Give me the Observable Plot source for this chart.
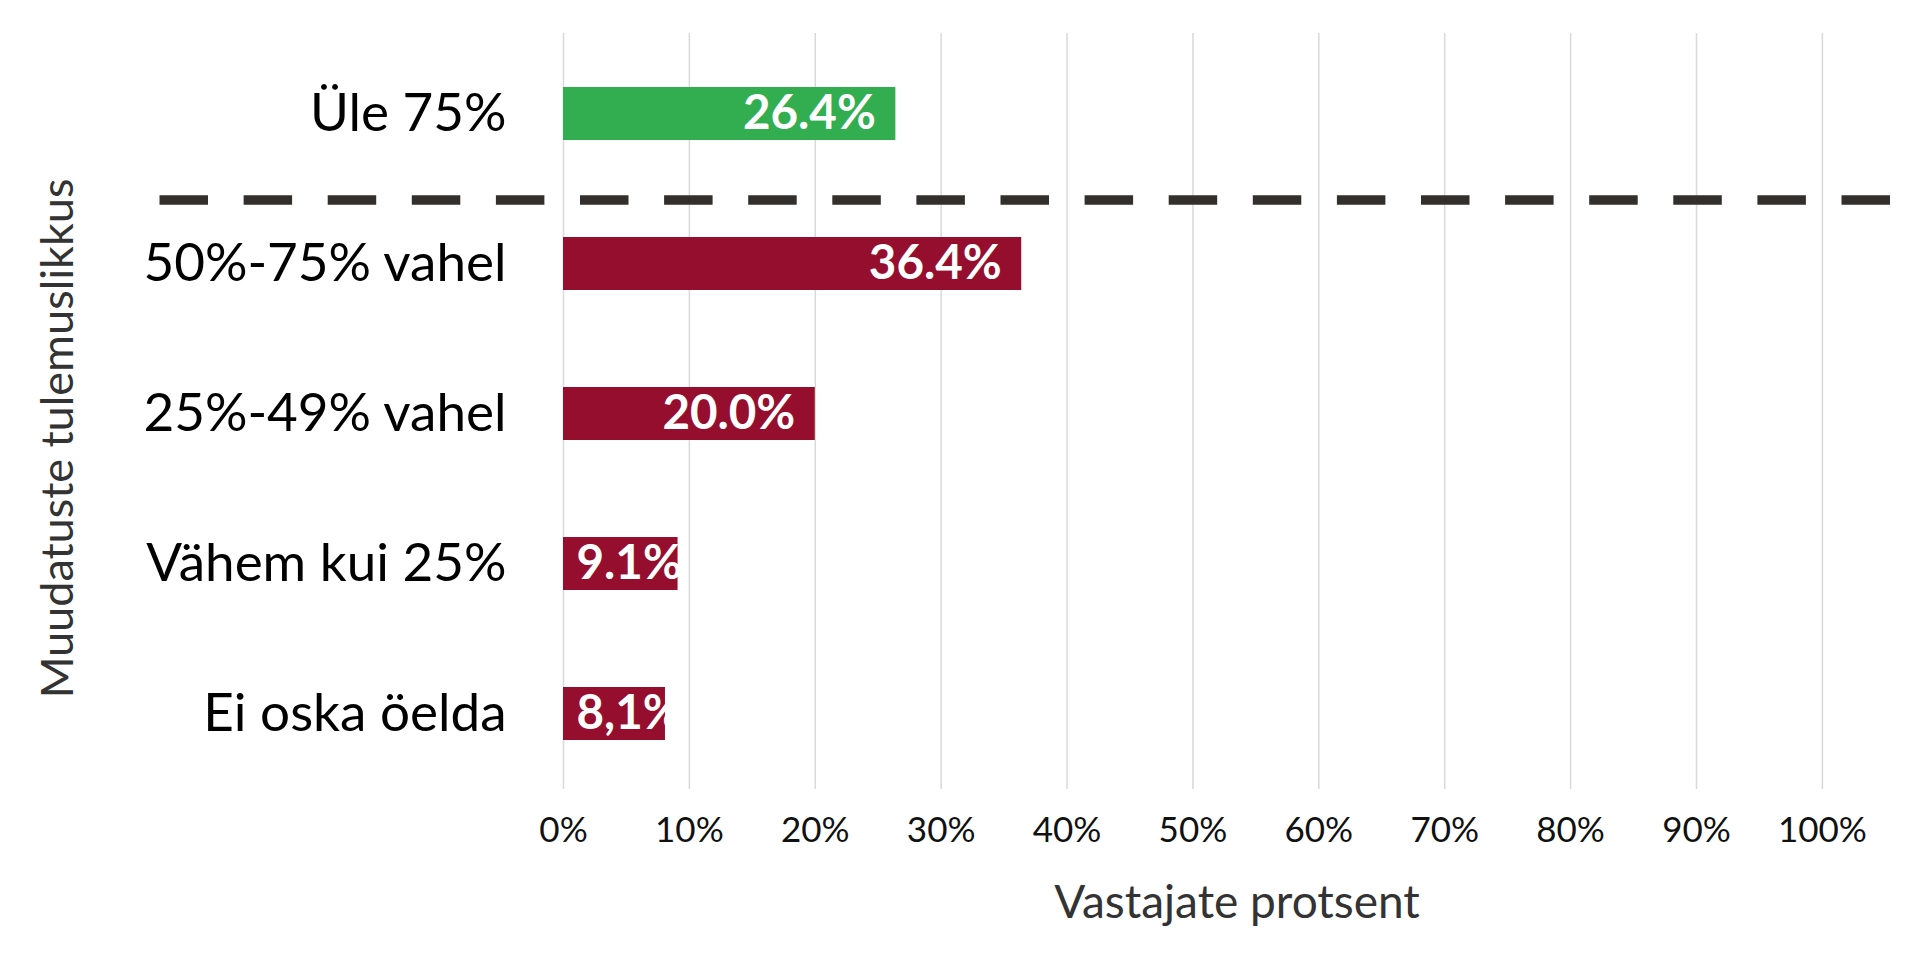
<!DOCTYPE html>
<html><head><meta charset="utf-8">
<script src="https://cdn.jsdelivr.net/npm/d3@7"></script>
<script src="https://cdn.jsdelivr.net/npm/@observablehq/plot@0.6"></script>
<style>body{margin:0;background:#fff;} svg{overflow:visible;}</style>
</head><body><div id="chart"></div>
<script>
// ---- data ----
const categories = ["Üle 75%", "50%-75% vahel", "25%-49% vahel", "Vähem kui 25%", "Ei oska öelda"];
const values = [26.4, 36.4, 20.0, 9.1, 8.1];
const valueLabels = ["26.4%", "36.4%", "20.0%", "9.1%", "8,1%"];
const groups = ["üle", "alla", "alla", "alla", "alla"];
const tickValues = [0, 10, 20, 30, 40, 50, 60, 70, 80, 90, 100];
const tickLabels = ["0%", "10%", "20%", "30%", "40%", "50%", "60%", "70%", "80%", "90%", "100%"];
const xTitle = "Vastajate protsent";
const yTitle = "Muudatuste tulemuslikkus";

const data = categories.map((c, i) => ({category: c, value: values[i], label: valueLabels[i], group: groups[i]}));
const FONT = "Lato, 'Open Sans', sans-serif";

const chart = Plot.plot({
  width: 1920, height: 956,
  marginLeft: 563, marginRight: 10, marginTop: 37, marginBottom: 167,
  style: {fontFamily: FONT, background: "#fff", overflow: "visible"},
  x: {domain: [0, 107], axis: null},
  y: {domain: categories, axis: null, paddingInner: 0.65, paddingOuter: 0.325},
  color: {domain: ["üle", "alla"], range: ["#32ae50", "#960e2e"]},
  marks: [
    Plot.ruleX(tickValues, {x: d => d, stroke: "#d9d9d9", strokeWidth: 1.5, insetTop: -4}),
    Plot.barX(data, {x: "value", y: "category", fill: "group"}),
    Plot.ruleY([categories[1]], {y: d => d, dy: -64, stroke: "#332f2c", strokeWidth: 9.5, strokeDasharray: "48.5,35.6", insetLeft: -403.5, insetRight: -12}),
    Plot.text(data.filter(d => d.value >= 15), {x: "value", y: "category", text: "label", textAnchor: "end", dx: -20, fill: "white", fontWeight: "bold", fontSize: 47.5}),
    Plot.text(data.filter(d => d.value < 15), {y: "category", text: "label", frameAnchor: "left", textAnchor: "start", dx: 13, fill: "white", fontWeight: "bold", fontSize: 47.5}),
    Plot.text(categories, {y: d => d, text: d => d, frameAnchor: "left", textAnchor: "end", dx: -57, fontSize: 53, fill: "#000"}),
    Plot.text(tickValues, {x: d => d, text: (d, i) => tickLabels[i], frameAnchor: "bottom", dy: 52.5, fontSize: 35, fill: "#111"}),
    Plot.text([xTitle], {text: d => d, frameAnchor: "bottom", dy: 128.5, fontSize: 46, fill: "#333"}),
    Plot.text([yTitle], {text: d => d, frameAnchor: "left", textAnchor: "middle", rotate: -90, dx: -505, dy: 25, fontSize: 45, fill: "#333"})
  ]
});
document.getElementById("chart").append(chart);
</script>
</body></html>
